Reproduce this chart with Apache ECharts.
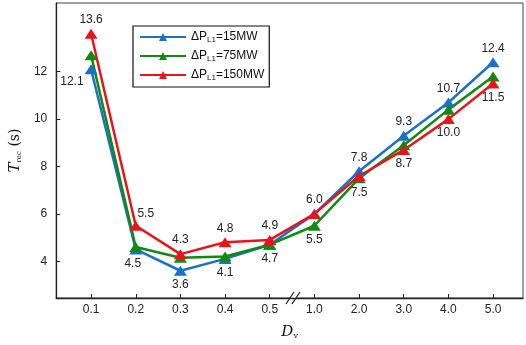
<!DOCTYPE html>
<html>
<head>
<meta charset="utf-8">
<script src="https://cdn.jsdelivr.net/npm/echarts@6/dist/echarts.min.js"></script>
<style>
  html, body { margin: 0; padding: 0; background: #fff; }
  #chart { width: 526px; height: 345px; }
</style>
</head>
<body>
<div id="chart"></div>
<script>
// data
const dvLabels = ['0.1', '0.2', '0.3', '0.4', '0.5', '1.0', '2.0', '3.0', '4.0', '5.0']
const yTicks = [4, 6, 8, 10, 12]
const t15 = [12.1, 4.5, 3.6, 4.1, 4.7, 6.0, 7.8, 9.3, 10.7, 12.4]
const t75 = [12.7, 4.6, 4.15, 4.2, 4.7, 5.5, 7.5, 8.9, 10.4, 11.8]
const t150 = [13.6, 5.5, 4.3, 4.8, 4.9, 6.0, 7.6, 8.7, 10.0, 11.5]

// which points carry a value label, and where
const labelPlace = {
  t15: { 0: ['left', [2, 12]], 1: ['bottom', [-3, 0]], 2: 'bottom', 3: 'bottom', 4: 'bottom',
         5: 'top', 6: 'top', 7: 'top', 8: 'top', 9: 'top' },
  t75: { 5: 'bottom', 6: 'bottom' },
  t150: { 0: 'top', 1: ['top', [10, 2]], 2: 'top', 3: 'top', 4: 'top', 7: 'bottom', 8: 'bottom', 9: 'bottom' }
}

const colors = ['#1a72c6', '#128a12', '#e8141a']

const chart = echarts.init(document.getElementById('chart'))

const buildData = (vals, places) => vals.map((v, i) => {
  const p = places[i]
  if (!p) return { value: [i, v] }
  const pos = Array.isArray(p) ? p[0] : p
  const off = Array.isArray(p) ? p[1] : [0, 0]
  return { value: [i, v], label: { show: true, position: pos, offset: off } }
})

const makeSeries = (name, vals, places, color) => ({
  name: name,
  type: 'line',
  data: buildData(vals, places),
  symbol: 'triangle',
  symbolSize: [13, 10],
  showAllSymbol: true,
  lineStyle: { color: color, width: 2.5 },
  itemStyle: { color: color },
  label: {
    show: false,
    formatter: (p) => p.value[1].toFixed(1),
    color: '#222',
    fontSize: 12,
    fontFamily: 'Liberation Sans',
    distance: 3
  },
  emphasis: { disabled: true }
})

const legendRich = {
  a: { fontSize: 12, fontFamily: 'Liberation Sans', color: '#111' },
  s: { fontSize: 8, fontFamily: 'Liberation Sans', color: '#111', verticalAlign: 'bottom', padding: [6, 0, 0, 0] }
}

const option = {
  animation: false,
  grid: {
    left: 54, right: 3, top: 3, bottom: 45,
    show: true, borderColor: '#444', borderWidth: 1
  },
  legend: {
    left: 133, top: 26,
    orient: 'vertical',
    itemWidth: 46, itemHeight: 10, itemGap: 6,
    padding: [5, 5, 5, 6],
    borderColor: '#111', borderWidth: 1.2, borderRadius: 0,
    backgroundColor: '#fff',
    data: ['15', '75', '150'],
    formatter: (n) => '{a|ΔP}{s|L1}{a|=' + n + 'MW}',
    textStyle: { rich: legendRich }
  },
  xAxis: {
    type: 'value',
    min: -0.78, max: 9.67,
    name: '{d|D}{v|v}',
    nameLocation: 'middle',
    nameGap: 26,
    nameTextStyle: {
      rich: {
        d: { fontFamily: 'DejaVu Serif', fontStyle: 'italic', fontSize: 15, color: '#111' },
        v: { fontFamily: 'DejaVu Serif', fontSize: 8, color: '#111', verticalAlign: 'bottom', padding: [8, 0, 0, 0] }
      }
    },
    axisLine: { onZero: false, lineStyle: { color: '#222', width: 1.3 } },
    axisTick: { inside: true, length: 4, customValues: dvLabels.map((_, i) => i), lineStyle: { color: '#222' } },
    axisLabel: {
      customValues: dvLabels.map((_, i) => i),
      formatter: (v) => dvLabels[Math.round(v)],
      color: '#222', fontSize: 12, fontFamily: 'Liberation Sans', margin: 6
    },
    splitLine: { show: false }
  },
  yAxis: {
    type: 'value',
    min: 2.45, max: 14.9,
    name: '{t|T}{r|rec}{t2| (s)}',
    nameLocation: 'middle',
    nameRotate: 90,
    nameGap: 32,
    nameTextStyle: {
      rich: {
        t: { fontFamily: 'DejaVu Serif', fontStyle: 'italic', fontSize: 15, color: '#111' },
        r: { fontFamily: 'DejaVu Serif', fontSize: 7, color: '#111', verticalAlign: 'bottom', padding: [8, 0, 0, 0] },
        t2: { fontFamily: 'DejaVu Serif', fontSize: 14, color: '#111' }
      }
    },
    axisLine: { show: true, onZero: false, lineStyle: { color: '#222', width: 1.3 } },
    axisTick: { show: true, inside: true, length: 4, customValues: yTicks, lineStyle: { color: '#222' } },
    axisLabel: {
      customValues: yTicks,
      color: '#222', fontSize: 12, fontFamily: 'Liberation Sans', margin: 9
    },
    splitLine: { show: false }
  },
  series: [
    makeSeries('15', t15, labelPlace.t15, colors[0]),
    makeSeries('75', t75, labelPlace.t75, colors[1]),
    makeSeries('150', t150, labelPlace.t150, colors[2])
  ]
}

chart.setOption(option)

// axis break mark "//" between 0.5 and 1.0
const bx = chart.convertToPixel({ xAxisIndex: 0 }, 4.52)
const by = chart.convertToPixel({ yAxisIndex: 0 }, 2.45)
const slash = (dx) => ({
  type: 'line',
  shape: { x1: bx + dx - 4, y1: by + 6, x2: bx + dx + 4, y2: by - 6 },
  style: { stroke: '#222', lineWidth: 1.3 }
})
chart.setOption({
  graphic: [
    { type: 'rect', shape: { x: bx - 3, y: by - 2, width: 6, height: 4 }, style: { fill: '#fff' } },
    slash(-3),
    slash(3)
  ]
})
</script>
</body>
</html>
